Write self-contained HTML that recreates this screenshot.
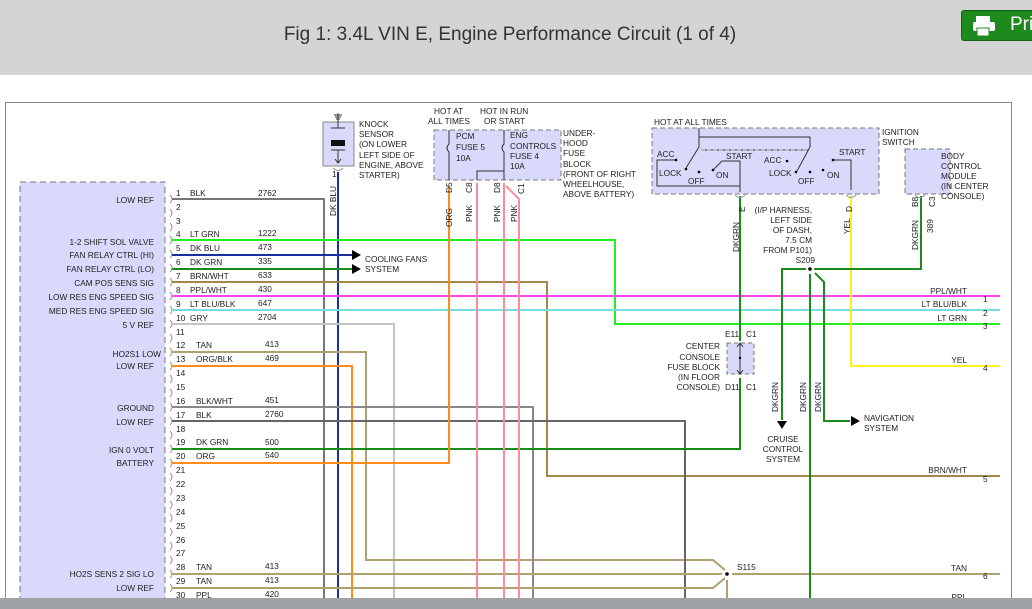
<!DOCTYPE html>
<html><head><meta charset="utf-8"><style>
html,body{margin:0;padding:0;width:1032px;height:609px;overflow:hidden;background:#fff;font-family:"Liberation Sans",Arial,sans-serif}
.hdr{position:absolute;left:0;top:0;width:1032px;height:75px;background:#d4d4d4}
.title{position:absolute;left:0;width:1020px;top:24px;text-align:center;font-size:19px;color:#333}
.btn{position:absolute;left:961px;top:10px;width:80px;height:29px;background:#1e8a1e;border-radius:3px;border:1px solid #126012}
.btn span{position:absolute;left:48px;top:3px;color:#fff;font-size:19px}
svg{position:absolute;left:0;top:0}
</style></head><body>
<div class="hdr"><div class="title">Fig 1: 3.4L VIN E, Engine Performance Circuit (1 of 4)</div>
<div class="btn"><svg width="30" height="29" style="left:8px"><rect x="6" y="5" width="14" height="6" fill="#fff"/><rect x="3" y="11" width="22" height="9" rx="2" fill="#fff"/><rect x="7" y="17" width="12" height="8" fill="#fff" stroke="#1e8a1e"/></svg><span>Pri</span></div></div>
<svg width="1032" height="609" viewBox="0 0 1032 609" font-family="Liberation Sans, Arial, sans-serif" font-size="8.3" fill="#222">
<rect x="5.5" y="102.5" width="1006" height="520" fill="#fff" stroke="#888" stroke-width="1"/>
<!-- PCM box -->
<rect x="20" y="182" width="145" height="440" fill="#d9d9fb" stroke="#777" stroke-dasharray="6,4"/>
<g text-anchor="end">
<text x="154" y="203">LOW REF</text>
<text x="154" y="245">1-2 SHIFT SOL VALVE</text>
<text x="154" y="258">FAN RELAY CTRL (HI)</text>
<text x="154" y="272">FAN RELAY CTRL (LO)</text>
<text x="154" y="286">CAM POS SENS SIG</text>
<text x="154" y="300">LOW RES ENG SPEED SIG</text>
<text x="154" y="314">MED RES ENG SPEED SIG</text>
<text x="154" y="328">5 V REF</text>
<text x="161" y="357">HO2S1 LOW</text>
<text x="154" y="369">LOW REF</text>
<text x="154" y="411">GROUND</text>
<text x="154" y="425">LOW REF</text>
<text x="154" y="453">IGN 0 VOLT</text>
<text x="154" y="466">BATTERY</text>
<text x="154" y="577">HO2S SENS 2 SIG LO</text>
<text x="154" y="591">LOW REF</text>
</g>
<!-- pin connectors and numbers -->
<g fill="none" stroke="#999" stroke-width="1">
<path d="M170 195 q4 4 0 8 M170 209 q4 4 0 8 M170 223 q4 4 0 8 M170 236 q4 4 0 8 M170 250 q4 4 0 8 M170 264 q4 4 0 8 M170 278 q4 4 0 8 M170 292 q4 4 0 8 M170 306 q4 4 0 8 M170 320 q4 4 0 8 M170 334 q4 4 0 8 M170 348 q4 4 0 8 M170 362 q4 4 0 8 M170 375 q4 4 0 8 M170 389 q4 4 0 8 M170 403 q4 4 0 8 M170 417 q4 4 0 8 M170 431 q4 4 0 8 M170 445 q4 4 0 8 M170 459 q4 4 0 8 M170 473 q4 4 0 8 M170 487 q4 4 0 8 M170 501 q4 4 0 8 M170 514 q4 4 0 8 M170 528 q4 4 0 8 M170 542 q4 4 0 8 M170 556 q4 4 0 8 M170 570 q4 4 0 8 M170 584 q4 4 0 8 M170 598 q4 4 0 8"/>
</g>
<g>
<text x="176" y="196">1</text><text x="190" y="196">BLK</text><text x="258" y="196">2762</text>
<text x="176" y="210">2</text><text x="176" y="224">3</text>
<text x="176" y="237">4</text><text x="190" y="237">LT GRN</text><text x="258" y="236">1222</text>
<text x="176" y="251">5</text><text x="190" y="251">DK BLU</text><text x="258" y="250">473</text>
<text x="176" y="265">6</text><text x="190" y="265">DK GRN</text><text x="258" y="264">335</text>
<text x="176" y="279">7</text><text x="190" y="279">BRN/WHT</text><text x="258" y="278">633</text>
<text x="176" y="293">8</text><text x="190" y="293">PPL/WHT</text><text x="258" y="292">430</text>
<text x="176" y="307">9</text><text x="190" y="307">LT BLU/BLK</text><text x="258" y="306">647</text>
<text x="176" y="321">10</text><text x="190" y="321">GRY</text><text x="258" y="320">2704</text>
<text x="176" y="335">11</text>
<text x="176" y="348">12</text><text x="196" y="348">TAN</text><text x="265" y="347">413</text>
<text x="176" y="362">13</text><text x="196" y="362">ORG/BLK</text><text x="265" y="361">469</text>
<text x="176" y="376">14</text><text x="176" y="390">15</text>
<text x="176" y="404">16</text><text x="196" y="404">BLK/WHT</text><text x="265" y="403">451</text>
<text x="176" y="418">17</text><text x="196" y="418">BLK</text><text x="265" y="417">2760</text>
<text x="176" y="432">18</text>
<text x="176" y="445">19</text><text x="196" y="445">DK GRN</text><text x="265" y="445">500</text>
<text x="176" y="459">20</text><text x="196" y="459">ORG</text><text x="265" y="458">540</text>
<text x="176" y="473">21</text><text x="176" y="487">22</text><text x="176" y="501">23</text><text x="176" y="515">24</text><text x="176" y="529">25</text><text x="176" y="543">26</text><text x="176" y="556">27</text>
<text x="176" y="570">28</text><text x="196" y="570">TAN</text><text x="265" y="569">413</text>
<text x="176" y="584">29</text><text x="196" y="584">TAN</text><text x="265" y="583">413</text>
<text x="176" y="598">30</text><text x="196" y="598">PPL</text><text x="265" y="597">420</text>
</g>
<!-- wires -->
<g fill="none" stroke-width="2">
<path d="M172 199 H324 V609" stroke="#777"/>
<path d="M338 172 V609" stroke="#1a2fa0"/>
<path d="M172 240 H615 V324 H1000" stroke="#22ee22"/>
<path d="M172 255 H352" stroke="#1a2fa0"/>
<path d="M172 269 H352" stroke="#1a8a1a"/>
<path d="M172 282 H547 V476 H1000" stroke="#a08848"/>
<path d="M172 296 H1000" stroke="#ff44ee"/>
<path d="M172 310 H1000" stroke="#77dddd"/>
<path d="M172 324 H394 V609" stroke="#c4c4c4"/>
<path d="M172 352 H366 V560 H713 L725 570" stroke="#b0a070"/>
<path d="M172 366 H352 V609" stroke="#ff8c1a"/>
<path d="M172 407 H533 V609" stroke="#888"/>
<path d="M172 421 H685 V609" stroke="#666"/>
<path d="M172 449 H740 V378" stroke="#1a8a1a"/>
<path d="M740 196 V341" stroke="#1a8a1a"/>
<path d="M172 463 H449 V186" stroke="#ff8c1a"/>
<path d="M172 574 H722 M732 574 H1000" stroke="#b0a070"/>
<path d="M172 588 H713 L725 578" stroke="#b0a070"/>
<path d="M727 580 V609" stroke="#b0a070"/>
<path d="M172 602 H1000" stroke="#b0a070"/>
<path d="M477 183 V609" stroke="#ff8a9a"/>
<path d="M504 183 V609" stroke="#ff8a9a"/>
<path d="M506 186 L519 199 V609" stroke="#ff8a9a"/>
<path d="M851 196 V366 H1000" stroke="#ffee22"/>
<path d="M921 196 V269 H814" stroke="#1a8a1a"/>
<path d="M806 269 H782 V420" stroke="#1a8a1a"/>
<path d="M810 274 V609" stroke="#1a8a1a"/>
<path d="M815 273 L824 282 V421 H850" stroke="#1a8a1a"/>
</g>
<!-- arrows -->
<path d="M352 250 L361 255 L352 260Z M352 264 L361 269 L352 274Z" fill="#000"/>
<path d="M777 421 L782 429 L787 421Z" fill="#000"/>
<path d="M851 416 L860 421 L851 426Z" fill="#000"/>
<circle cx="810" cy="269" r="1.8" fill="#000"/>
<circle cx="727" cy="574" r="1.8" fill="#000"/>
<text x="365" y="262">COOLING FANS</text><text x="365" y="272">SYSTEM</text>
<!-- knock sensor -->
<rect x="323" y="122" width="31" height="44" fill="#d9d9fb" stroke="#888"/>
<path d="M338 113 V128 M334 115 H342 M335 117 H341 M336 119 H340 M331 128 H345 M331 150 H345 M338 150 V162 M335 159 L338 163 L341 159" stroke="#333" fill="none"/>
<rect x="331" y="140" width="14" height="6" fill="#111"/>
<path d="M333 168 q5 5 10 0" stroke="#999" fill="none"/>
<text x="332" y="177">1</text>
<text x="359" y="127">KNOCK</text><text x="359" y="137">SENSOR</text><text x="359" y="147">(ON LOWER</text><text x="359" y="158">LEFT SIDE OF</text><text x="359" y="168">ENGINE, ABOVE</text><text x="359" y="178">STARTER)</text>
<text transform="translate(336,216) rotate(-90)">DK BLU</text>
<!-- fuse block -->
<text x="434" y="114">HOT AT</text><text x="428" y="124">ALL TIMES</text>
<text x="480" y="114">HOT IN RUN</text><text x="484" y="124">OR START</text>
<rect x="434" y="130" width="127" height="50" fill="#d9d9fb" stroke="#777" stroke-dasharray="5,3"/>
<path d="M449 130 V144 q-4 4 0 8 V180 M504 130 V144 q-4 4 0 8 V180 M504 171 H477 V180" stroke="#333" fill="none"/>
<text x="456" y="139">PCM</text><text x="456" y="150">FUSE 5</text><text x="456" y="161">10A</text>
<text x="510" y="138">ENG</text><text x="510" y="149">CONTROLS</text><text x="510" y="159">FUSE 4</text><text x="510" y="169">10A</text>
<text x="563" y="136">UNDER-</text><text x="563" y="146">HOOD</text><text x="563" y="156">FUSE</text><text x="563" y="167">BLOCK</text><text x="563" y="177">(FRONT OF RIGHT</text><text x="563" y="187">WHEELHOUSE,</text><text x="563" y="197">ABOVE BATTERY)</text>
<g transform="rotate(-90)">
<text x="-193" y="452">D5</text><text x="-227" y="452">ORG</text>
<text x="-193" y="472">C8</text><text x="-222" y="472">PNK</text>
<text x="-193" y="500">D8</text><text x="-222" y="500">PNK</text>
<text x="-194" y="524">C1</text><text x="-222" y="517">PNK</text>
<text x="-212" y="745">E</text><text x="-252" y="739">DKGRN</text>
<text x="-212" y="852">D</text><text x="-234" y="850">YEL</text>
<text x="-207" y="918">B8</text><text x="-250" y="918">DKGRN</text>
<text x="-207" y="935">C3</text><text x="-233" y="933">389</text>
<text x="-412" y="778">DKGRN</text><text x="-412" y="806">DKGRN</text><text x="-412" y="821">DKGRN</text>
</g>
<!-- ignition switch -->
<text x="654" y="125">HOT AT ALL TIMES</text>
<rect x="652" y="128" width="227" height="66" fill="#d9d9fb" stroke="#777" stroke-dasharray="5,3"/>
<path d="M699 128 V147 M699 137 H810 V147 M699 147 L686 168 M810 147 L797 171 M701 150 H808" stroke="#333" fill="none"/>
<path d="M701 150 H808" stroke="#999" stroke-dasharray="4,2"/>
<path d="M676 160 H657 V186 H740 V192 M713 170 L722 161 H740 V190 M833 160 H851 V190" stroke="#333" fill="none"/>
<g fill="#000"><circle cx="676" cy="160" r="1.3"/><circle cx="686" cy="169" r="1.3"/><circle cx="699" cy="172" r="1.3"/><circle cx="713" cy="170" r="1.3"/><circle cx="787" cy="161" r="1.3"/><circle cx="796" cy="172" r="1.3"/><circle cx="810" cy="172" r="1.3"/><circle cx="823" cy="170" r="1.3"/><circle cx="833" cy="160" r="1.3"/></g>
<text x="657" y="157">ACC</text><text x="659" y="176">LOCK</text><text x="688" y="184">OFF</text><text x="716" y="178">ON</text><text x="726" y="159">START</text>
<text x="764" y="163">ACC</text><text x="769" y="176">LOCK</text><text x="798" y="184">OFF</text><text x="827" y="178">ON</text><text x="839" y="155">START</text>
<text x="882" y="135">IGNITION</text><text x="882" y="145">SWITCH</text>
<path d="M735 195 q5 5 10 0 M846 195 q5 5 10 0 M915 195 q5 5 10 0" stroke="#999" fill="none"/>
<!-- BCM -->
<rect x="905" y="149" width="45" height="45" fill="#d9d9fb" stroke="#777" stroke-dasharray="5,3"/>
<text x="941" y="159">BODY</text><text x="941" y="169">CONTROL</text><text x="941" y="179">MODULE</text><text x="941" y="189">(IN CENTER</text><text x="941" y="199">CONSOLE)</text>
<g text-anchor="end"><text x="812" y="213">(I/P HARNESS,</text><text x="812" y="223">LEFT SIDE</text><text x="812" y="233">OF DASH,</text><text x="812" y="243">7.5 CM</text><text x="812" y="253">FROM P101)</text><text x="815" y="263">S209</text></g>
<!-- center console fuse block -->
<rect x="727" y="343" width="27" height="31" fill="#d9d9fb" stroke="#777" stroke-dasharray="4,3"/>
<path d="M740 344 V374 M737 347 L740 343 L743 347 M737 370 L740 374 L743 370" stroke="#333" fill="none"/>
<circle cx="740" cy="358" r="1.2" fill="#000"/>
<text x="725" y="337">E11</text><text x="746" y="337">C1</text><text x="725" y="390">D11</text><text x="746" y="390">C1</text>
<g text-anchor="end"><text x="720" y="349">CENTER</text><text x="720" y="360">CONSOLE</text><text x="720" y="370">FUSE BLOCK</text><text x="720" y="380">(IN FLOOR</text><text x="720" y="390">CONSOLE)</text></g>
<g text-anchor="middle"><text x="783" y="442">CRUISE</text><text x="783" y="452">CONTROL</text><text x="783" y="462">SYSTEM</text></g>
<text x="864" y="421">NAVIGATION</text><text x="864" y="431">SYSTEM</text>
<text x="737" y="570">S115</text>
<!-- right labels -->
<g text-anchor="end"><text x="967" y="294">PPL/WHT</text><text x="967" y="307">LT BLU/BLK</text><text x="967" y="321">LT GRN</text><text x="967" y="363">YEL</text><text x="967" y="473">BRN/WHT</text><text x="967" y="571">TAN</text><text x="967" y="600">PPL</text></g>
<text x="983" y="302">1</text><text x="983" y="316">2</text><text x="983" y="329">3</text><text x="983" y="371">4</text><text x="983" y="482">5</text><text x="983" y="579">6</text>
<rect x="0" y="598" width="1032" height="11" fill="#9fa3a7"/>
</svg>
</body></html>
